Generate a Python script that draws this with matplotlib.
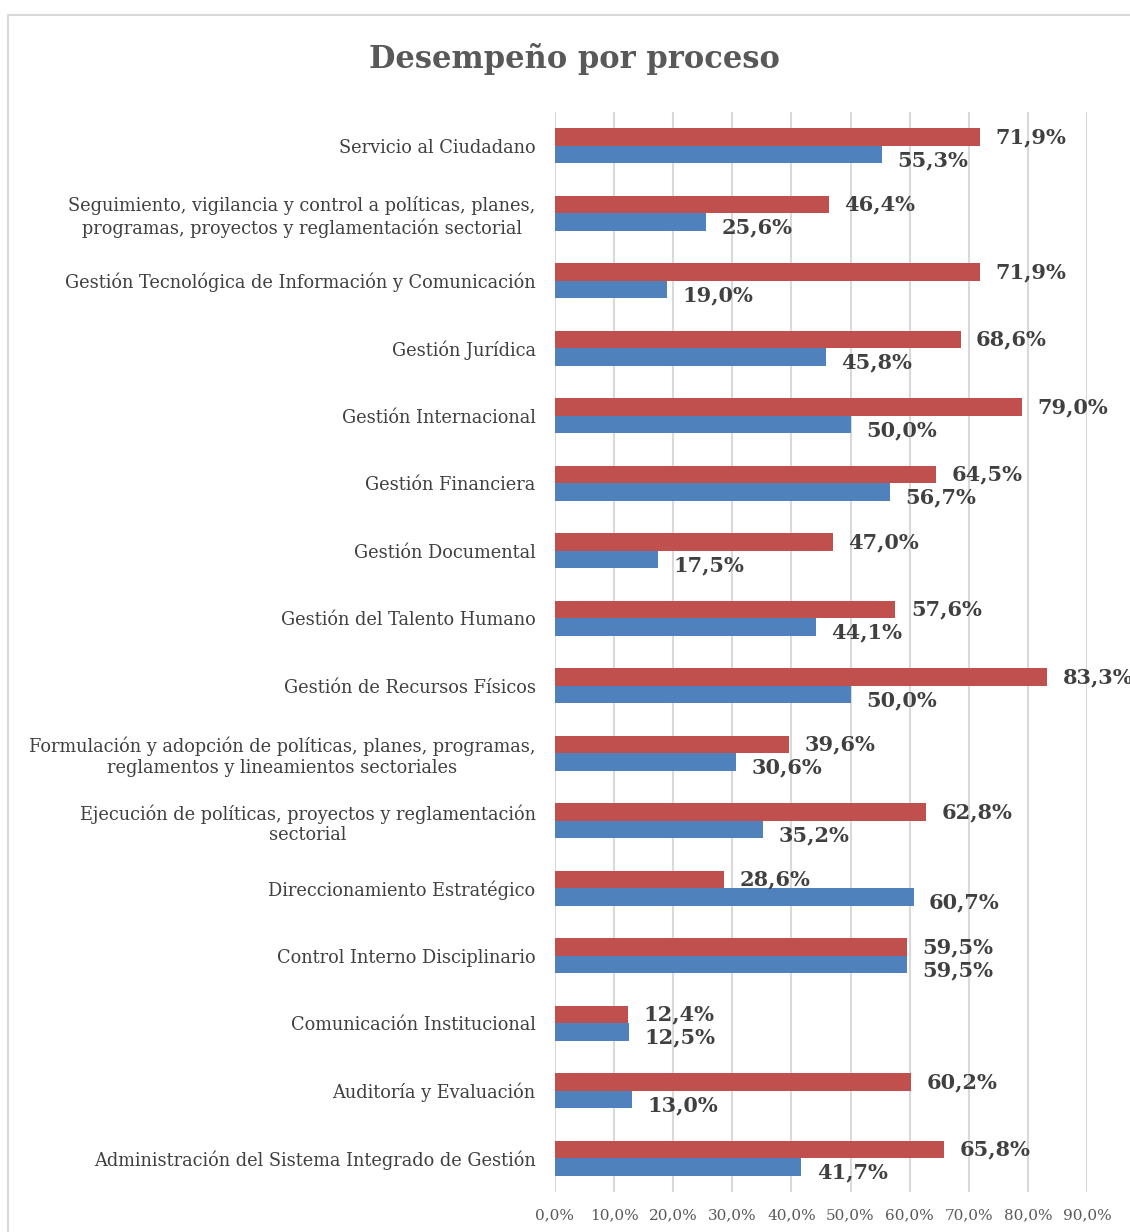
import numpy as np
import matplotlib
matplotlib.use("Agg")
import matplotlib.pyplot as plt
from matplotlib.patches import Rectangle

plt.rcParams['font.family'] = ['DejaVu Serif', 'Liberation Serif']

# datos (de arriba hacia abajo)
procesos = [
    "Servicio al Ciudadano",
    "Seguimiento, vigilancia y control a políticas, planes,\nprogramas, proyectos y reglamentación sectorial",
    "Gestión Tecnológica de Información y Comunicación",
    "Gestión Jurídica",
    "Gestión Internacional",
    "Gestión Financiera",
    "Gestión Documental",
    "Gestión del Talento Humano",
    "Gestión de Recursos Físicos",
    "Formulación y adopción de políticas, planes, programas,\nreglamentos y lineamientos sectoriales",
    "Ejecución de políticas, proyectos y reglamentación\nsectorial",
    "Direccionamiento Estratégico",
    "Control Interno Disciplinario",
    "Comunicación Institucional",
    "Auditoría y Evaluación",
    "Administración del Sistema Integrado de Gestión",
]
serie_roja = [71.9, 46.4, 71.9, 68.6, 79.0, 64.5, 47.0, 57.6, 83.3, 39.6, 62.8, 28.6, 59.5, 12.4, 60.2, 65.8]
serie_azul = [55.3, 25.6, 19.0, 45.8, 50.0, 56.7, 17.5, 44.1, 50.0, 30.6, 35.2, 60.7, 59.5, 12.5, 13.0, 41.7]
ticks = [0, 10, 20, 30, 40, 50, 60, 70, 80, 90]

rojo = "#C0504D"
azul = "#4F81BD"
gris_txt = "#595959"
gris_lbl = "#404040"
gris_grid = "#D9D9D9"

fig = plt.figure(figsize=(11.3, 12.32), dpi=100)
ax = fig.add_axes([555 / 1130, 1 - 1192 / 1232, (1087 - 555) / 1130, (1192 - 112) / 1232])

y = np.arange(len(procesos))
h = 0.26
ax.barh(y - h / 2, serie_roja, height=h, color=rojo, zorder=3)
ax.barh(y + h / 2, serie_azul, height=h, color=azul, zorder=3)

def fmt(v):
    return f"{v:.1f}%".replace(".", ",")

for i in range(len(procesos)):
    ax.annotate(fmt(serie_roja[i]), (serie_roja[i], y[i] - h / 2), xytext=(11, 0),
                textcoords="offset points", va="center", ha="left",
                fontsize=15, fontweight="bold", color=gris_lbl, annotation_clip=False)
    ax.annotate(fmt(serie_azul[i]), (serie_azul[i], y[i] + h / 2), xytext=(11, -4),
                textcoords="offset points", va="center", ha="left",
                fontsize=15, fontweight="bold", color=gris_lbl, annotation_clip=False)

ax.set_ylim(len(procesos) - 0.5, -0.5)
ax.set_xlim(0, 90)
ax.set_xticks(ticks)
ax.set_xticklabels([fmt(t) for t in ticks], fontsize=11, color=gris_txt)
ax.set_yticks(y)
ax.set_yticklabels(procesos, fontsize=12.8, color=gris_lbl, multialignment="center")
ax.tick_params(axis="y", length=0, pad=14)
ax.tick_params(axis="x", length=0, pad=12)
ax.grid(axis="x", color=gris_grid, linewidth=1.5, zorder=0)
for s in ax.spines.values():
    s.set_visible(False)
ax.set_facecolor("none")

fig.text(574 / 1130, 1 - 59 / 1232, "Desempeño por proceso", ha="center", va="center",
         fontsize=22, fontweight="bold", color=gris_txt)

fig.patches.append(Rectangle((8 / 1130, -0.1), 1.2, 1.1 - 15 / 1232, transform=fig.transFigure,
                             fill=False, edgecolor=gris_grid, linewidth=1.5, figure=fig))

fig.savefig("out.png", dpi=100)
